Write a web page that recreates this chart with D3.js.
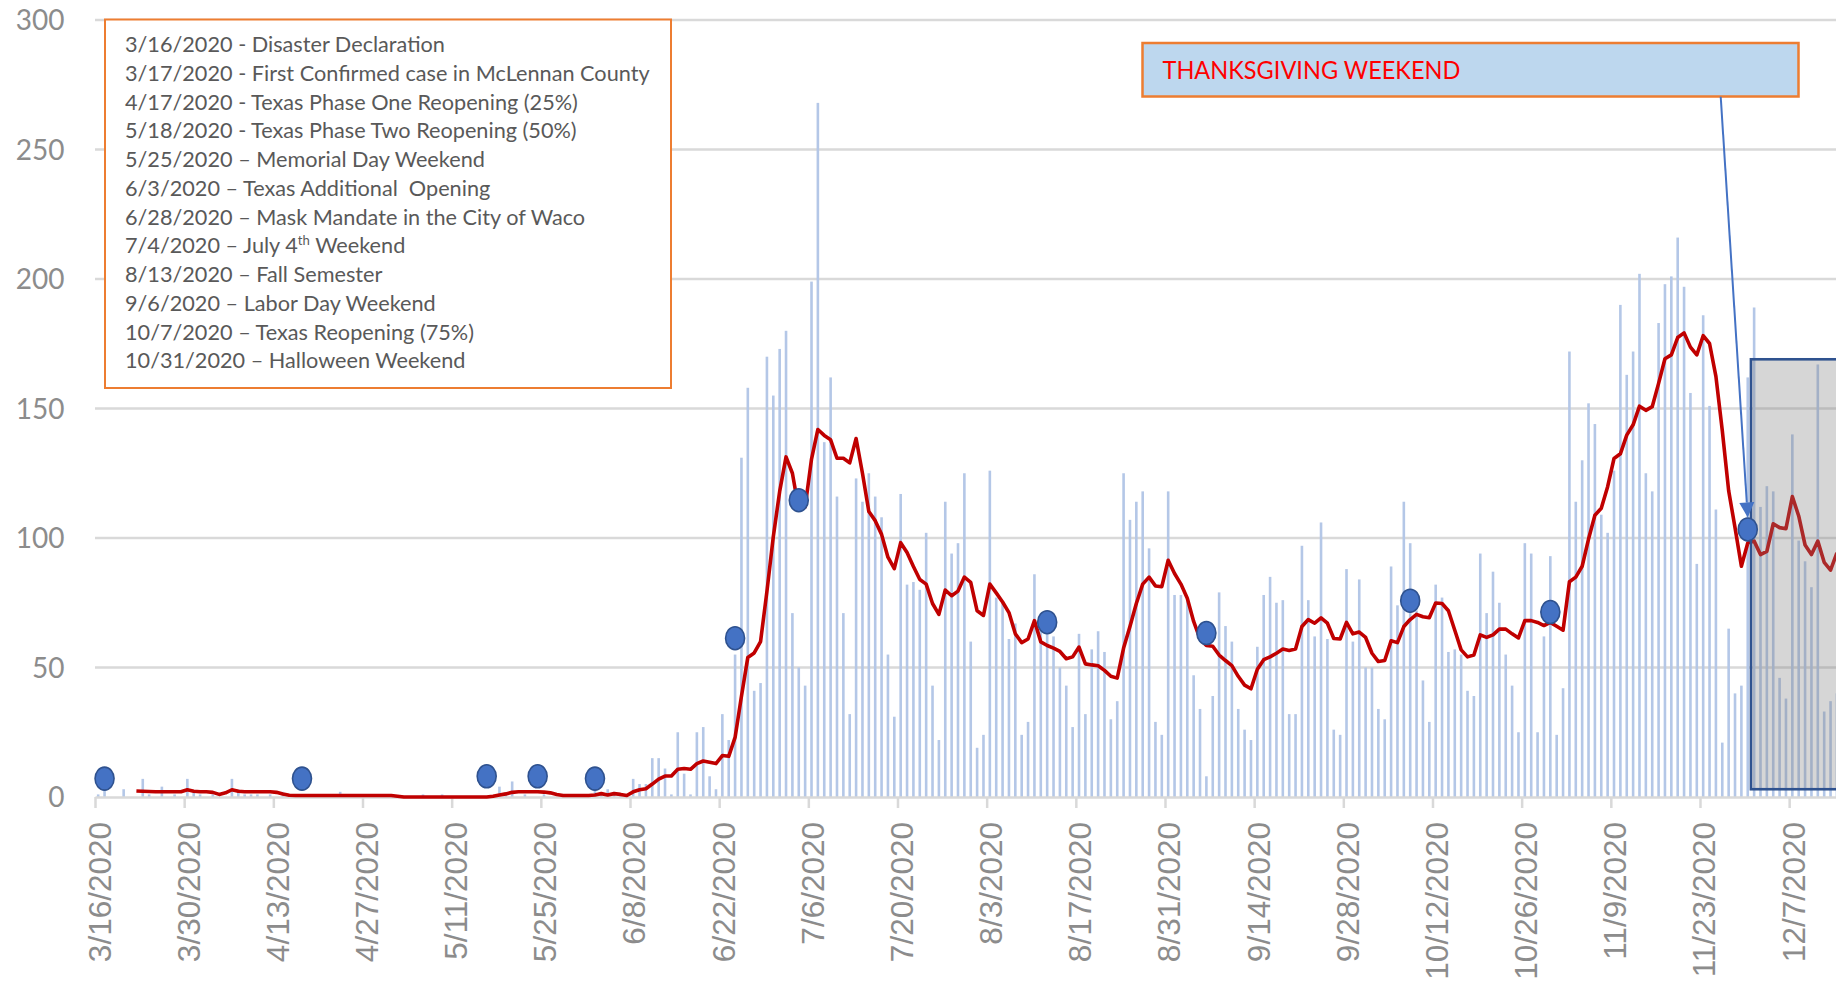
<!DOCTYPE html>
<html>
<head>
<meta charset="utf-8">
<script src="https://cdn.jsdelivr.net/npm/d3@7"></script>
<style>
  html, body { margin: 0; padding: 0; background: #fff; overflow: hidden; }
  svg { display: block; }
</style>
</head>
<body>
<svg id="chart" width="1836" height="988"></svg>
<script>
// daily new cases, one array per month (3/16/2020 .. 12/14/2020)
const marCases = [1,3,0,0,3,0,0,7,1,0,4,0,1,0,7,2];
const aprCases = [1,0,1,0,0,7,3,1,1,1,0,1,0,2,0,0,0,0,1,0,0,0,2,0,0,0,0,0,1,0];
const mayCases = [0,0,0,0,0,1,0,0,1,0,0,0,0,0,0,0,0,4,1,6,0,1,0,0,1,0,0,0,1,0,0];
const junCases = [0,3,1,3,2,1,0,7,5,5,15,15,11,1,25,9,1,25,27,8,3,32,22,55,131,158,41,44,170,155];
const julCases = [173,180,71,50,43,199,268,137,162,116,71,32,123,114,125,116,108,55,31,117,82,83,80,102,43,22,114,94,98,125,60];
const augCases = [19,24,126,77,75,61,67,24,29,86,68,66,62,50,43,27,63,32,57,64,56,30,37,125,107,114,118,96,29,24,118];
const sepCases = [78,78,77,47,34,8,39,79,66,60,34,26,22,58,78,85,75,76,32,32,97,76,62,106,61,26,24,88,60,84];
const octCases = [50,50,34,30,89,74,114,98,72,45,29,82,77,56,57,55,41,39,94,71,87,75,55,43,25,98,94,25,62,93,24];
const novCases = [42,172,114,130,152,144,109,102,126,190,163,172,202,125,118,183,198,201,216,197,156,90,186,151,111,21,65,40,43,162];
const decCases = [189,112,120,118,46,38,140,99,91,81,167,33,37,40];

// 7-day average as drawn (red line), from 3/22/2020
const marAvg = [2.3,2.2,2.1,2,2,2,2,2,2.8,2.2];
const aprAvg = [2,2,1.8,1,1.6,2.8,2.2,2,2,2,2,2,1.8,1.2,0.7,0.6,0.6,0.6,0.6,0.6,0.6,0.6,0.6,0.6,0.6,0.6,0.6,0.6,0.6,0.6];
const mayAvg = [0.6,0.3,0,0,0,0,0,0,0,0,0,0,0,0,0,0,0.3,0.8,1.2,1.8,2,2,2,2,1.9,1.6,1,0.6,0.6,0.6,0.6];
const junAvg = [0.6,0.8,1.3,0.8,1.3,1,0.6,2,2.8,3.2,5,6.9,8.1,8.1,10.7,11,10.7,12.9,13.9,13.4,12.9,16,15.7,23,38.9,53.9,55.6,60,79.4,100.5];
const julAvg = [118,131.3,125,111,112,130.5,141.9,139.6,137.9,130.8,130.8,129,138.4,125,110.2,106.7,101.4,92.6,88.2,98.2,94.4,89,84,82.2,74.7,70.5,79.9,77.7,79.5,84.9,82.9];
const augAvg = [71.9,70.1,82.2,78.8,75.3,71.2,63,59.6,61,68.1,59.9,58.5,57.5,56.2,53.4,54.1,57.9,51.4,51,50.7,48.9,46.6,45.9,57.5,65.8,74.7,82.2,84.9,81.5,81.2,91.4];
const sepAvg = [86.3,82.2,76.7,67.8,61,58.5,58.2,54.8,52.7,50.7,46.6,43.2,41.8,49.3,53,54.1,55.5,57.1,56.6,57.1,65.8,68.5,67.1,69.2,67.1,61.2,61,67.4,63,63.7];
const octAvg = [61.6,55.5,52.3,52.7,60.3,59.6,65.8,68.5,70.5,69.6,69.2,74.9,74.7,71.9,64.4,56.8,54.1,54.8,62.6,61.6,62.6,64.8,64.8,63,61.4,68.1,68.1,67.4,66.2,67.4,65.9];
const novAvg = [64.4,83.1,84.9,89.1,99.6,108.8,111.5,119.8,130.7,132.5,139.7,143.7,150.9,149.3,150.7,159.7,169.2,170.7,177.4,179.2,173.7,170.7,178.1,175.1,162.4,141.5,118.3,104,89.1,98.1];
const decAvg = [98.8,93.6,94.8,105.5,104,103.6,116,108.5,97.3,93.6,98.8,90.6,87.6,94.3];

// blue event markers
const eventDates = ["2020-03-17","2020-04-17","2020-05-16","2020-05-24","2020-06-02","2020-06-24",
                    "2020-07-04","2020-08-12","2020-09-06","2020-10-08","2020-10-30","2020-11-30"];
const eventValues = [7.1,7.1,8,8,7.1,61.3,114.6,67.5,63.3,75.8,71.4,103.3];

const legendLines = [
  "3/16/2020 - Disaster Declaration",
  "3/17/2020 - First Confirmed case in McLennan County",
  "4/17/2020 - Texas Phase One Reopening (25%)",
  "5/18/2020 - Texas Phase Two Reopening (50%)",
  "5/25/2020 \u2013 Memorial Day Weekend",
  "6/3/2020 \u2013 Texas Additional  Opening",
  "6/28/2020 \u2013 Mask Mandate in the City of Waco",
  "7/4/2020 \u2013 July 4^th Weekend",
  "8/13/2020 \u2013 Fall Semester",
  "9/6/2020 \u2013 Labor Day Weekend",
  "10/7/2020 \u2013 Texas Reopening (75%)",
  "10/31/2020 \u2013 Halloween Weekend"
];
const calloutText = "THANKSGIVING WEEKEND";
const yTicks = [0, 50, 100, 150, 200, 250, 300];
const shadeStart = "2020-12-01";
const shadeRange = [3, 169];

const parse = d3.utcParse("%Y-%m-%d");
const start = parse("2020-03-16");
const avgFrom = parse("2020-03-22");
const cases = [].concat(marCases, aprCases, mayCases, junCases, julCases, augCases, sepCases, octCases, novCases, decCases);
const avg = [].concat(marAvg, aprAvg, mayAvg, junAvg, julAvg, augAvg, sepAvg, octAvg, novAvg, decAvg);

const margin = { left: 95, right: 1836, top: 20, bottom: 797 };
const pxPerDay = 6.369;
const endDate = new Date(start.getTime() + (margin.right - margin.left) / pxPerDay * 864e5);

const x = d3.scaleUtc().domain([start, endDate]).range([margin.left, margin.right]);
const y = d3.scaleLinear().domain([0, 300]).range([margin.bottom, margin.top]);
const mid = d => x(d3.utcHour.offset(d, 12));

const svg = d3.select("#chart");

// gridlines
svg.append("g").selectAll("line")
  .data(yTicks.filter(v => v > 0))
  .join("line")
    .attr("x1", margin.left).attr("x2", margin.right)
    .attr("y1", d => y(d)).attr("y2", d => y(d))
    .attr("stroke", "#d9d9d9").attr("stroke-width", 2.5);

// y labels
const yLab = svg.append("g").selectAll("text")
  .data(yTicks)
  .join("text")
    .attr("x", 64.5).attr("y", d => y(d))
    .attr("dy", "0.36em")
    .attr("text-anchor", "end")
    .attr("font-family", "Lato")
    .attr("font-size", 28)
    .attr("fill", "#8c8c8c")
    .text(d => d);

// bars
const barData = cases.map((v, i) => ({ date: d3.utcDay.offset(start, i), value: v }));
svg.append("g").selectAll("rect")
  .data(barData.filter(d => d.value > 0))
  .join("rect")
    .attr("x", d => mid(d.date) - 1.3)
    .attr("width", 2.6)
    .attr("y", d => y(d.value))
    .attr("height", d => y(0) - y(d.value))
    .attr("fill", "#b4c7e7");

// x axis
const tickDates = d3.utcDay.range(start, parse("2020-12-08"), 14);
const xAxis = d3.axisBottom(x)
  .tickValues(tickDates)
  .tickFormat(d3.utcFormat("%-m/%-d/%Y"))
  .tickSize(11)
  .tickSizeOuter(0);
const gx = svg.append("g")
  .attr("transform", `translate(0,${y(0)})`)
  .call(xAxis);
gx.select(".domain").attr("stroke", "#d9d9d9").attr("stroke-width", 2.5);
gx.selectAll(".tick line").attr("stroke", "#d9d9d9").attr("stroke-width", 2.5);
gx.selectAll(".tick text")
  .attr("transform", "rotate(-90)")
  .attr("text-anchor", "end")
  .attr("x", -25).attr("y", 0)
  .attr("dy", 15)
  .attr("font-family", "Liberation Sans")
  .attr("font-size", 31.5)
  .attr("fill", "#8c8c8c");

// red moving average line
const avgData = avg.map((v, i) => ({ date: d3.utcDay.offset(avgFrom, i), value: v }));
svg.append("path")
  .datum(avgData)
  .attr("fill", "none")
  .attr("stroke", "#c00000")
  .attr("stroke-width", 3.6)
  .attr("stroke-linejoin", "round")
  .attr("d", d3.line().x(d => mid(d.date)).y(d => y(d.value)));

// grey highlight box
const sx = x(parse(shadeStart));
svg.append("rect")
  .attr("x", sx)
  .attr("y", y(shadeRange[1]))
  .attr("width", margin.right + 10 - sx)
  .attr("height", y(shadeRange[0]) - y(shadeRange[1]))
  .attr("fill", "#7f7f7f").attr("fill-opacity", 0.32)
  .attr("stroke", "#2f528f").attr("stroke-width", 2.6);

// legend box
svg.append("rect")
  .attr("x", 105).attr("y", 19.5)
  .attr("width", 566).attr("height", 368.5)
  .attr("fill", "#fff")
  .attr("stroke", "#ed7d31").attr("stroke-width", 2);

const legOuter = svg.append("g").attr("transform", "translate(125,0)");
const leg = legOuter.append("g");
legendLines.forEach((line, i) => {
  const t = leg.append("text")
    .attr("x", 0).attr("y", 52.3 + i * 28.73)
    .attr("font-family", "Lato")
    .attr("font-size", 21.5)
    .attr("fill", "#595959")
    .style("white-space", "pre");
  if (line.includes("^")) {
    const [a, rest] = line.split("^");
    t.append("tspan").text(a);
    t.append("tspan").attr("dy", -8).attr("font-size", 13).text(rest.slice(0, 2));
    t.append("tspan").attr("dy", 8).text(rest.slice(2));
  } else {
    t.text(line);
  }
});
const refW = leg.selectAll("text").nodes()[1].getComputedTextLength();
leg.attr("transform", `scale(${525 / refW},1)`);

// Thanksgiving callout
svg.append("rect")
  .attr("x", 1142.5).attr("y", 43)
  .attr("width", 656).attr("height", 53.5)
  .attr("fill", "#bdd7ee")
  .attr("stroke", "#ed7d31").attr("stroke-width", 2.5);
const callG = svg.append("g").attr("transform", "translate(1162.5,79.3)");
const callT = callG.append("text")
  .attr("font-family", "Lato")
  .attr("font-size", 24.5)
  .attr("fill", "#ff0000")
  .text(calloutText);
callT.attr("transform", `scale(${298 / callT.node().getComputedTextLength()},1)`);

// event markers
const dots = eventDates.map((d, i) => ({ date: parse(d), value: eventValues[i] }));
svg.append("g").selectAll("ellipse")
  .data(dots)
  .join("ellipse")
    .attr("cx", d => mid(d.date))
    .attr("cy", d => y(d.value))
    .attr("rx", 9.5).attr("ry", 11.5)
    .attr("fill", "#4472c4")
    .attr("stroke", "#2f528f").attr("stroke-width", 1.6);

// arrow from callout to the Thanksgiving marker
const target = dots[dots.length - 1];
const tx = mid(target.date), ty = y(target.value) - 12;
const ax = 1720.7, ay = 96.7;
const len = Math.hypot(tx - ax, ty - ay);
const ux = (tx - ax) / len, uy = (ty - ay) / len;
const headL = 15, headW = 7.5;
const bx = tx - ux * headL, by = ty - uy * headL;
svg.append("line")
  .attr("x1", ax).attr("y1", ay).attr("x2", bx).attr("y2", by)
  .attr("stroke", "#4472c4").attr("stroke-width", 2);
svg.append("path")
  .attr("d", `M${tx},${ty}L${bx - uy * headW},${by + ux * headW}L${bx + uy * headW},${by - ux * headW}Z`)
  .attr("fill", "#4472c4");
</script>
</body>
</html>
